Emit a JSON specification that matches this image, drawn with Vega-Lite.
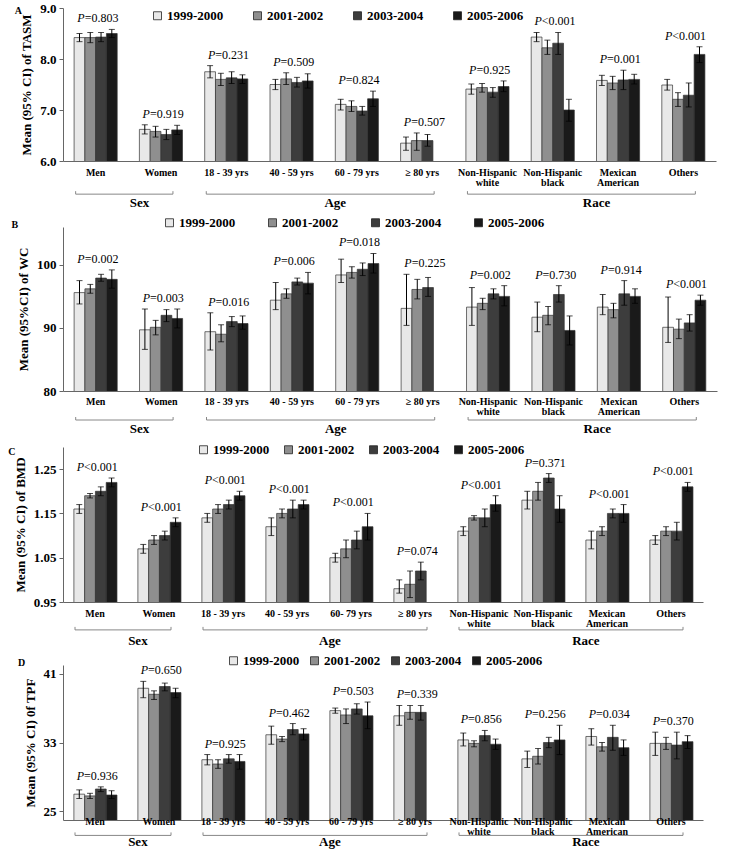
{
  "$schema": "https://vega.github.io/schema/vega-lite/v6.json",
  "padding": {"left": 8, "top": 2, "right": 4, "bottom": 0},
  "spacing": 6,
  "config": {
    "font": "Liberation Serif",
    "view": {"stroke": null},
    "axis": {"labelColor": "black", "titleColor": "black", "domainColor": "#666", "tickColor": "#666", "grid": false},
    "axisY": {"labelFontSize": 13, "labelFontWeight": "bold", "titleFontSize": 13, "titleFontWeight": "bold", "tickSize": 4, "labelPadding": 3, "titlePadding": 6, "labelOverlap": false},
    "axisX": {"labels": false, "ticks": false, "title": null},
    "legend": {"orient": "none", "direction": "horizontal", "symbolType": "square", "symbolSize": 64, "symbolStrokeColor": "#222", "symbolStrokeWidth": 0.8, "labelFontSize": 13, "labelFontWeight": "bold", "labelColor": "black", "labelOffset": 3},
    "title": {"fontSize": 10, "fontWeight": "bold", "anchor": "start", "frame": "bounds", "color": "black"}
  },
  "datasets": {
    "groups": [
      {"group": "Sex", "start": "Men", "mid": "Women", "end": "Women"},
      {"group": "Age", "start": "18 - 39 yrs", "mid": "60 - 79 yrs", "end": "≥ 80 yrs"},
      {"group": "Race", "start": "Non-Hispanic white", "mid": "Mexican American", "end": "Others"}
    ],
    "groupsC": [
      {"group": "Sex", "start": "Men", "mid": "Women", "end": "Women"},
      {"group": "Age", "start": "18 - 39 yrs", "mid": "60- 79 yrs", "end": "≥ 80 yrs"},
      {"group": "Race", "start": "Non-Hispanic white", "mid": "Mexican American", "end": "Others"}
    ],
    "xlabels": [
      {"cat": "Men", "label": "Men"},
      {"cat": "Women", "label": "Women"},
      {"cat": "18 - 39 yrs", "label": "18 - 39 yrs"},
      {"cat": "40 - 59 yrs", "label": "40 - 59 yrs"},
      {"cat": "60 - 79 yrs", "label": "60 - 79 yrs"},
      {"cat": "≥ 80 yrs", "label": "≥ 80 yrs"},
      {"cat": "Non-Hispanic white", "label": "Non-Hispanic\nwhite"},
      {"cat": "Non-Hispanic black", "label": "Non-Hispanic\nblack"},
      {"cat": "Mexican American", "label": "Mexican\nAmerican"},
      {"cat": "Others", "label": "Others"}
    ],
    "xlabelsC": [
      {"cat": "Men", "label": "Men"},
      {"cat": "Women", "label": "Women"},
      {"cat": "18 - 39 yrs", "label": "18 - 39 yrs"},
      {"cat": "40 - 59 yrs", "label": "40 - 59 yrs"},
      {"cat": "60- 79 yrs", "label": "60- 79 yrs"},
      {"cat": "≥ 80 yrs", "label": "≥ 80 yrs"},
      {"cat": "Non-Hispanic white", "label": "Non-Hispanic\nwhite"},
      {"cat": "Non-Hispanic black", "label": "Non-Hispanic\nblack"},
      {"cat": "Mexican American", "label": "Mexican\nAmerican"},
      {"cat": "Others", "label": "Others"}
    ],
    "tasm": [
      {"cat": "Men", "period": "1999-2000", "mean": 8.42, "lo": 8.34, "hi": 8.50, "p": "=0.803"},
      {"cat": "Men", "period": "2001-2002", "mean": 8.42, "lo": 8.32, "hi": 8.52, "p": "=0.803"},
      {"cat": "Men", "period": "2003-2004", "mean": 8.43, "lo": 8.34, "hi": 8.52, "p": "=0.803"},
      {"cat": "Men", "period": "2005-2006", "mean": 8.50, "lo": 8.42, "hi": 8.58, "p": "=0.803"},
      {"cat": "Women", "period": "1999-2000", "mean": 6.62, "lo": 6.53, "hi": 6.71, "p": "=0.919"},
      {"cat": "Women", "period": "2001-2002", "mean": 6.58, "lo": 6.47, "hi": 6.68, "p": "=0.919"},
      {"cat": "Women", "period": "2003-2004", "mean": 6.52, "lo": 6.42, "hi": 6.62, "p": "=0.919"},
      {"cat": "Women", "period": "2005-2006", "mean": 6.61, "lo": 6.52, "hi": 6.70, "p": "=0.919"},
      {"cat": "18 - 39 yrs", "period": "1999-2000", "mean": 7.75, "lo": 7.63, "hi": 7.87, "p": "=0.231"},
      {"cat": "18 - 39 yrs", "period": "2001-2002", "mean": 7.60, "lo": 7.48, "hi": 7.72, "p": "=0.231"},
      {"cat": "18 - 39 yrs", "period": "2003-2004", "mean": 7.63, "lo": 7.52, "hi": 7.75, "p": "=0.231"},
      {"cat": "18 - 39 yrs", "period": "2005-2006", "mean": 7.61, "lo": 7.52, "hi": 7.69, "p": "=0.231"},
      {"cat": "40 - 59 yrs", "period": "1999-2000", "mean": 7.50, "lo": 7.40, "hi": 7.60, "p": "=0.509"},
      {"cat": "40 - 59 yrs", "period": "2001-2002", "mean": 7.61, "lo": 7.50, "hi": 7.73, "p": "=0.509"},
      {"cat": "40 - 59 yrs", "period": "2003-2004", "mean": 7.54, "lo": 7.45, "hi": 7.64, "p": "=0.509"},
      {"cat": "40 - 59 yrs", "period": "2005-2006", "mean": 7.57, "lo": 7.43, "hi": 7.71, "p": "=0.509"},
      {"cat": "60 - 79 yrs", "period": "1999-2000", "mean": 7.11, "lo": 7.00, "hi": 7.21, "p": "=0.824"},
      {"cat": "60 - 79 yrs", "period": "2001-2002", "mean": 7.07, "lo": 6.97, "hi": 7.18, "p": "=0.824"},
      {"cat": "60 - 79 yrs", "period": "2003-2004", "mean": 6.98, "lo": 6.90, "hi": 7.07, "p": "=0.824"},
      {"cat": "60 - 79 yrs", "period": "2005-2006", "mean": 7.22, "lo": 7.07, "hi": 7.37, "p": "=0.824"},
      {"cat": "≥ 80 yrs", "period": "1999-2000", "mean": 6.35, "lo": 6.21, "hi": 6.47, "p": "=0.507"},
      {"cat": "≥ 80 yrs", "period": "2001-2002", "mean": 6.40, "lo": 6.21, "hi": 6.55, "p": "=0.507"},
      {"cat": "≥ 80 yrs", "period": "2003-2004", "mean": 6.40, "lo": 6.29, "hi": 6.52, "p": "=0.507"},
      {"cat": "Non-Hispanic white", "period": "1999-2000", "mean": 7.41, "lo": 7.31, "hi": 7.51, "p": "=0.925"},
      {"cat": "Non-Hispanic white", "period": "2001-2002", "mean": 7.44, "lo": 7.35, "hi": 7.52, "p": "=0.925"},
      {"cat": "Non-Hispanic white", "period": "2003-2004", "mean": 7.35, "lo": 7.25, "hi": 7.44, "p": "=0.925"},
      {"cat": "Non-Hispanic white", "period": "2005-2006", "mean": 7.46, "lo": 7.36, "hi": 7.57, "p": "=0.925"},
      {"cat": "Non-Hispanic black", "period": "1999-2000", "mean": 8.43, "lo": 8.34, "hi": 8.52, "p": "<0.001"},
      {"cat": "Non-Hispanic black", "period": "2001-2002", "mean": 8.22, "lo": 8.09, "hi": 8.37, "p": "<0.001"},
      {"cat": "Non-Hispanic black", "period": "2003-2004", "mean": 8.31, "lo": 8.09, "hi": 8.52, "p": "<0.001"},
      {"cat": "Non-Hispanic black", "period": "2005-2006", "mean": 7.00, "lo": 6.78, "hi": 7.21, "p": "<0.001"},
      {"cat": "Mexican American", "period": "1999-2000", "mean": 7.58, "lo": 7.48, "hi": 7.68, "p": "=0.001"},
      {"cat": "Mexican American", "period": "2001-2002", "mean": 7.53, "lo": 7.40, "hi": 7.66, "p": "=0.001"},
      {"cat": "Mexican American", "period": "2003-2004", "mean": 7.59, "lo": 7.40, "hi": 7.78, "p": "=0.001"},
      {"cat": "Mexican American", "period": "2005-2006", "mean": 7.60, "lo": 7.51, "hi": 7.70, "p": "=0.001"},
      {"cat": "Others", "period": "1999-2000", "mean": 7.49, "lo": 7.39, "hi": 7.60, "p": "<0.001"},
      {"cat": "Others", "period": "2001-2002", "mean": 7.21, "lo": 7.07, "hi": 7.34, "p": "<0.001"},
      {"cat": "Others", "period": "2003-2004", "mean": 7.29, "lo": 7.06, "hi": 7.53, "p": "<0.001"},
      {"cat": "Others", "period": "2005-2006", "mean": 8.09, "lo": 7.93, "hi": 8.24, "p": "<0.001"}
    ],
    "wc": [
      {"cat": "Men", "period": "1999-2000", "mean": 95.6, "lo": 93.8, "hi": 97.5, "p": "=0.002"},
      {"cat": "Men", "period": "2001-2002", "mean": 96.2, "lo": 95.5, "hi": 96.9, "p": "=0.002"},
      {"cat": "Men", "period": "2003-2004", "mean": 97.9, "lo": 97.4, "hi": 98.5, "p": "=0.002"},
      {"cat": "Men", "period": "2005-2006", "mean": 97.7, "lo": 96.3, "hi": 99.2, "p": "=0.002"},
      {"cat": "Women", "period": "1999-2000", "mean": 89.7, "lo": 86.6, "hi": 93.0, "p": "=0.003"},
      {"cat": "Women", "period": "2001-2002", "mean": 90.1, "lo": 88.9, "hi": 91.2, "p": "=0.003"},
      {"cat": "Women", "period": "2003-2004", "mean": 92.0, "lo": 91.0, "hi": 92.9, "p": "=0.003"},
      {"cat": "Women", "period": "2005-2006", "mean": 91.5, "lo": 90.0, "hi": 93.0, "p": "=0.003"},
      {"cat": "18 - 39 yrs", "period": "1999-2000", "mean": 89.4, "lo": 86.5, "hi": 92.4, "p": "=0.016"},
      {"cat": "18 - 39 yrs", "period": "2001-2002", "mean": 89.0, "lo": 87.8, "hi": 90.5, "p": "=0.016"},
      {"cat": "18 - 39 yrs", "period": "2003-2004", "mean": 91.0, "lo": 90.2, "hi": 91.8, "p": "=0.016"},
      {"cat": "18 - 39 yrs", "period": "2005-2006", "mean": 90.7, "lo": 89.8, "hi": 91.9, "p": "=0.016"},
      {"cat": "40 - 59 yrs", "period": "1999-2000", "mean": 94.4, "lo": 92.9, "hi": 97.2, "p": "=0.006"},
      {"cat": "40 - 59 yrs", "period": "2001-2002", "mean": 95.4, "lo": 94.7, "hi": 96.2, "p": "=0.006"},
      {"cat": "40 - 59 yrs", "period": "2003-2004", "mean": 97.3, "lo": 96.8, "hi": 97.9, "p": "=0.006"},
      {"cat": "40 - 59 yrs", "period": "2005-2006", "mean": 97.1, "lo": 95.4, "hi": 98.8, "p": "=0.006"},
      {"cat": "60 - 79 yrs", "period": "1999-2000", "mean": 98.4, "lo": 97.2, "hi": 100.9, "p": "=0.018"},
      {"cat": "60 - 79 yrs", "period": "2001-2002", "mean": 98.8, "lo": 97.9, "hi": 99.7, "p": "=0.018"},
      {"cat": "60 - 79 yrs", "period": "2003-2004", "mean": 99.3, "lo": 98.3, "hi": 100.3, "p": "=0.018"},
      {"cat": "60 - 79 yrs", "period": "2005-2006", "mean": 100.2, "lo": 98.7, "hi": 101.8, "p": "=0.018"},
      {"cat": "≥ 80 yrs", "period": "1999-2000", "mean": 93.1, "lo": 90.4, "hi": 98.5, "p": "=0.225"},
      {"cat": "≥ 80 yrs", "period": "2001-2002", "mean": 96.1, "lo": 94.6, "hi": 97.7, "p": "=0.225"},
      {"cat": "≥ 80 yrs", "period": "2003-2004", "mean": 96.4, "lo": 95.0, "hi": 98.0, "p": "=0.225"},
      {"cat": "Non-Hispanic white", "period": "1999-2000", "mean": 93.3, "lo": 90.4, "hi": 96.4, "p": "=0.002"},
      {"cat": "Non-Hispanic white", "period": "2001-2002", "mean": 93.9, "lo": 92.9, "hi": 94.7, "p": "=0.002"},
      {"cat": "Non-Hispanic white", "period": "2003-2004", "mean": 95.4, "lo": 94.6, "hi": 96.2, "p": "=0.002"},
      {"cat": "Non-Hispanic white", "period": "2005-2006", "mean": 95.0, "lo": 93.5, "hi": 96.7, "p": "=0.002"},
      {"cat": "Non-Hispanic black", "period": "1999-2000", "mean": 91.7, "lo": 89.4, "hi": 94.1, "p": "=0.730"},
      {"cat": "Non-Hispanic black", "period": "2001-2002", "mean": 92.0, "lo": 90.5, "hi": 93.4, "p": "=0.730"},
      {"cat": "Non-Hispanic black", "period": "2003-2004", "mean": 95.3, "lo": 94.1, "hi": 96.7, "p": "=0.730"},
      {"cat": "Non-Hispanic black", "period": "2005-2006", "mean": 89.6, "lo": 87.3, "hi": 91.9, "p": "=0.730"},
      {"cat": "Mexican American", "period": "1999-2000", "mean": 93.3, "lo": 92.1, "hi": 95.3, "p": "=0.914"},
      {"cat": "Mexican American", "period": "2001-2002", "mean": 92.9, "lo": 91.6, "hi": 93.9, "p": "=0.914"},
      {"cat": "Mexican American", "period": "2003-2004", "mean": 95.4, "lo": 93.6, "hi": 97.5, "p": "=0.914"},
      {"cat": "Mexican American", "period": "2005-2006", "mean": 95.0, "lo": 93.9, "hi": 96.2, "p": "=0.914"},
      {"cat": "Others", "period": "1999-2000", "mean": 90.1, "lo": 87.7, "hi": 94.9, "p": "<0.001"},
      {"cat": "Others", "period": "2001-2002", "mean": 89.8, "lo": 88.3, "hi": 91.4, "p": "<0.001"},
      {"cat": "Others", "period": "2003-2004", "mean": 90.8, "lo": 89.5, "hi": 92.1, "p": "<0.001"},
      {"cat": "Others", "period": "2005-2006", "mean": 94.4, "lo": 93.6, "hi": 95.2, "p": "<0.001"}
    ],
    "bmd": [
      {"cat": "Men", "period": "1999-2000", "mean": 1.16, "lo": 1.15, "hi": 1.17, "p": "<0.001"},
      {"cat": "Men", "period": "2001-2002", "mean": 1.19, "lo": 1.185, "hi": 1.195, "p": "<0.001"},
      {"cat": "Men", "period": "2003-2004", "mean": 1.20, "lo": 1.19, "hi": 1.21, "p": "<0.001"},
      {"cat": "Men", "period": "2005-2006", "mean": 1.22, "lo": 1.21, "hi": 1.23, "p": "<0.001"},
      {"cat": "Women", "period": "1999-2000", "mean": 1.07, "lo": 1.06, "hi": 1.08, "p": "<0.001"},
      {"cat": "Women", "period": "2001-2002", "mean": 1.09, "lo": 1.08, "hi": 1.10, "p": "<0.001"},
      {"cat": "Women", "period": "2003-2004", "mean": 1.10, "lo": 1.09, "hi": 1.11, "p": "<0.001"},
      {"cat": "Women", "period": "2005-2006", "mean": 1.13, "lo": 1.12, "hi": 1.14, "p": "<0.001"},
      {"cat": "18 - 39 yrs", "period": "1999-2000", "mean": 1.14, "lo": 1.13, "hi": 1.15, "p": "<0.001"},
      {"cat": "18 - 39 yrs", "period": "2001-2002", "mean": 1.16, "lo": 1.15, "hi": 1.17, "p": "<0.001"},
      {"cat": "18 - 39 yrs", "period": "2003-2004", "mean": 1.17, "lo": 1.16, "hi": 1.18, "p": "<0.001"},
      {"cat": "18 - 39 yrs", "period": "2005-2006", "mean": 1.19, "lo": 1.18, "hi": 1.20, "p": "<0.001"},
      {"cat": "40 - 59 yrs", "period": "1999-2000", "mean": 1.12, "lo": 1.10, "hi": 1.14, "p": "<0.001"},
      {"cat": "40 - 59 yrs", "period": "2001-2002", "mean": 1.15, "lo": 1.14, "hi": 1.16, "p": "<0.001"},
      {"cat": "40 - 59 yrs", "period": "2003-2004", "mean": 1.16, "lo": 1.14, "hi": 1.18, "p": "<0.001"},
      {"cat": "40 - 59 yrs", "period": "2005-2006", "mean": 1.17, "lo": 1.16, "hi": 1.18, "p": "<0.001"},
      {"cat": "60- 79 yrs", "period": "1999-2000", "mean": 1.05, "lo": 1.04, "hi": 1.06, "p": "<0.001"},
      {"cat": "60- 79 yrs", "period": "2001-2002", "mean": 1.07, "lo": 1.05, "hi": 1.09, "p": "<0.001"},
      {"cat": "60- 79 yrs", "period": "2003-2004", "mean": 1.09, "lo": 1.07, "hi": 1.11, "p": "<0.001"},
      {"cat": "60- 79 yrs", "period": "2005-2006", "mean": 1.12, "lo": 1.09, "hi": 1.15, "p": "<0.001"},
      {"cat": "≥ 80 yrs", "period": "1999-2000", "mean": 0.98, "lo": 0.97, "hi": 1.00, "p": "=0.074"},
      {"cat": "≥ 80 yrs", "period": "2001-2002", "mean": 0.99, "lo": 0.96, "hi": 1.02, "p": "=0.074"},
      {"cat": "≥ 80 yrs", "period": "2003-2004", "mean": 1.02, "lo": 1.00, "hi": 1.04, "p": "=0.074"},
      {"cat": "Non-Hispanic white", "period": "1999-2000", "mean": 1.11, "lo": 1.10, "hi": 1.12, "p": "<0.001"},
      {"cat": "Non-Hispanic white", "period": "2001-2002", "mean": 1.14, "lo": 1.135, "hi": 1.145, "p": "<0.001"},
      {"cat": "Non-Hispanic white", "period": "2003-2004", "mean": 1.14, "lo": 1.12, "hi": 1.16, "p": "<0.001"},
      {"cat": "Non-Hispanic white", "period": "2005-2006", "mean": 1.17, "lo": 1.155, "hi": 1.19, "p": "<0.001"},
      {"cat": "Non-Hispanic black", "period": "1999-2000", "mean": 1.18, "lo": 1.16, "hi": 1.20, "p": "=0.371"},
      {"cat": "Non-Hispanic black", "period": "2001-2002", "mean": 1.20, "lo": 1.18, "hi": 1.22, "p": "=0.371"},
      {"cat": "Non-Hispanic black", "period": "2003-2004", "mean": 1.23, "lo": 1.22, "hi": 1.24, "p": "=0.371"},
      {"cat": "Non-Hispanic black", "period": "2005-2006", "mean": 1.16, "lo": 1.13, "hi": 1.19, "p": "=0.371"},
      {"cat": "Mexican American", "period": "1999-2000", "mean": 1.09, "lo": 1.07, "hi": 1.11, "p": "<0.001"},
      {"cat": "Mexican American", "period": "2001-2002", "mean": 1.11, "lo": 1.10, "hi": 1.12, "p": "<0.001"},
      {"cat": "Mexican American", "period": "2003-2004", "mean": 1.15, "lo": 1.14, "hi": 1.16, "p": "<0.001"},
      {"cat": "Mexican American", "period": "2005-2006", "mean": 1.15, "lo": 1.13, "hi": 1.17, "p": "<0.001"},
      {"cat": "Others", "period": "1999-2000", "mean": 1.09, "lo": 1.08, "hi": 1.10, "p": "<0.001"},
      {"cat": "Others", "period": "2001-2002", "mean": 1.11, "lo": 1.10, "hi": 1.12, "p": "<0.001"},
      {"cat": "Others", "period": "2003-2004", "mean": 1.11, "lo": 1.09, "hi": 1.13, "p": "<0.001"},
      {"cat": "Others", "period": "2005-2006", "mean": 1.21, "lo": 1.20, "hi": 1.22, "p": "<0.001"}
    ],
    "tpf": [
      {"cat": "Men", "period": "1999-2000", "mean": 27.0, "lo": 26.5, "hi": 27.5, "p": "=0.936"},
      {"cat": "Men", "period": "2001-2002", "mean": 26.8, "lo": 26.5, "hi": 27.1, "p": "=0.936"},
      {"cat": "Men", "period": "2003-2004", "mean": 27.6, "lo": 27.3, "hi": 27.85, "p": "=0.936"},
      {"cat": "Men", "period": "2005-2006", "mean": 26.9, "lo": 26.5, "hi": 27.4, "p": "=0.936"},
      {"cat": "Women", "period": "1999-2000", "mean": 39.3, "lo": 38.2, "hi": 40.1, "p": "=0.650"},
      {"cat": "Women", "period": "2001-2002", "mean": 38.6, "lo": 38.0, "hi": 39.0, "p": "=0.650"},
      {"cat": "Women", "period": "2003-2004", "mean": 39.5, "lo": 39.0, "hi": 39.9, "p": "=0.650"},
      {"cat": "Women", "period": "2005-2006", "mean": 38.8, "lo": 38.2, "hi": 39.3, "p": "=0.650"},
      {"cat": "18 - 39 yrs", "period": "1999-2000", "mean": 31.0, "lo": 30.4, "hi": 31.6, "p": "=0.925"},
      {"cat": "18 - 39 yrs", "period": "2001-2002", "mean": 30.5, "lo": 30.0, "hi": 31.0, "p": "=0.925"},
      {"cat": "18 - 39 yrs", "period": "2003-2004", "mean": 31.1, "lo": 30.6, "hi": 31.6, "p": "=0.925"},
      {"cat": "18 - 39 yrs", "period": "2005-2006", "mean": 30.8, "lo": 29.9, "hi": 31.6, "p": "=0.925"},
      {"cat": "40 - 59 yrs", "period": "1999-2000", "mean": 33.9, "lo": 32.8, "hi": 34.9, "p": "=0.462"},
      {"cat": "40 - 59 yrs", "period": "2001-2002", "mean": 33.4, "lo": 33.1, "hi": 33.7, "p": "=0.462"},
      {"cat": "40 - 59 yrs", "period": "2003-2004", "mean": 34.5, "lo": 33.9, "hi": 35.2, "p": "=0.462"},
      {"cat": "40 - 59 yrs", "period": "2005-2006", "mean": 34.0, "lo": 33.3, "hi": 34.6, "p": "=0.462"},
      {"cat": "60 - 79 yrs", "period": "1999-2000", "mean": 36.7, "lo": 36.4, "hi": 37.0, "p": "=0.503"},
      {"cat": "60 - 79 yrs", "period": "2001-2002", "mean": 36.2, "lo": 35.2, "hi": 36.9, "p": "=0.503"},
      {"cat": "60 - 79 yrs", "period": "2003-2004", "mean": 36.9, "lo": 36.3, "hi": 37.5, "p": "=0.503"},
      {"cat": "60 - 79 yrs", "period": "2005-2006", "mean": 36.1, "lo": 34.6, "hi": 37.7, "p": "=0.503"},
      {"cat": "≥ 80 yrs", "period": "1999-2000", "mean": 36.1, "lo": 35.0, "hi": 37.3, "p": "=0.339"},
      {"cat": "≥ 80 yrs", "period": "2001-2002", "mean": 36.5, "lo": 35.7, "hi": 37.3, "p": "=0.339"},
      {"cat": "≥ 80 yrs", "period": "2003-2004", "mean": 36.5, "lo": 35.6, "hi": 37.3, "p": "=0.339"},
      {"cat": "Non-Hispanic white", "period": "1999-2000", "mean": 33.3, "lo": 32.6, "hi": 34.1, "p": "=0.856"},
      {"cat": "Non-Hispanic white", "period": "2001-2002", "mean": 32.9, "lo": 32.5, "hi": 33.2, "p": "=0.856"},
      {"cat": "Non-Hispanic white", "period": "2003-2004", "mean": 33.8, "lo": 33.2, "hi": 34.4, "p": "=0.856"},
      {"cat": "Non-Hispanic white", "period": "2005-2006", "mean": 32.8, "lo": 32.2, "hi": 33.4, "p": "=0.856"},
      {"cat": "Non-Hispanic black", "period": "1999-2000", "mean": 31.1, "lo": 30.1, "hi": 32.0, "p": "=0.256"},
      {"cat": "Non-Hispanic black", "period": "2001-2002", "mean": 31.4, "lo": 30.5, "hi": 32.3, "p": "=0.256"},
      {"cat": "Non-Hispanic black", "period": "2003-2004", "mean": 33.0, "lo": 32.4, "hi": 33.6, "p": "=0.256"},
      {"cat": "Non-Hispanic black", "period": "2005-2006", "mean": 33.3, "lo": 31.6, "hi": 35.0, "p": "=0.256"},
      {"cat": "Mexican American", "period": "1999-2000", "mean": 33.7, "lo": 32.7, "hi": 34.6, "p": "=0.034"},
      {"cat": "Mexican American", "period": "2001-2002", "mean": 32.5, "lo": 32.0, "hi": 33.0, "p": "=0.034"},
      {"cat": "Mexican American", "period": "2003-2004", "mean": 33.6, "lo": 32.1, "hi": 35.0, "p": "=0.034"},
      {"cat": "Mexican American", "period": "2005-2006", "mean": 32.4, "lo": 31.5, "hi": 33.3, "p": "=0.034"},
      {"cat": "Others", "period": "1999-2000", "mean": 32.9, "lo": 31.5, "hi": 34.2, "p": "=0.370"},
      {"cat": "Others", "period": "2001-2002", "mean": 32.9, "lo": 32.2, "hi": 33.6, "p": "=0.370"},
      {"cat": "Others", "period": "2003-2004", "mean": 32.7, "lo": 31.1, "hi": 34.2, "p": "=0.370"},
      {"cat": "Others", "period": "2005-2006", "mean": 33.1, "lo": 32.3, "hi": 33.8, "p": "=0.370"}
    ]
  },
  "resolve": {"scale": {"x": "independent", "y": "independent", "color": "independent"}, "legend": {"color": "independent"}},
  "vconcat": [
    {
      "title": {"text": "A", "offset": -14, "dx": -6},
      "width": 653, "height": 153,
      "layer": [
        {"data": {"name": "tasm"}, "mark": {"type": "bar", "stroke": "#333", "strokeWidth": 0.7, "clip": true},
         "encoding": {
           "x": {"field": "cat", "type": "nominal", "scale": {"domain": ["Men", "Women", "18 - 39 yrs", "40 - 59 yrs", "60 - 79 yrs", "≥ 80 yrs", "Non-Hispanic white", "Non-Hispanic black", "Mexican American", "Others"], "paddingInner": 0.34, "paddingOuter": 0.17}},
           "xOffset": {"field": "period", "type": "nominal", "scale": {"domain": ["1999-2000", "2001-2002", "2003-2004", "2005-2006"]}},
           "y": {"field": "mean", "type": "quantitative", "scale": {"domain": [6, 9], "zero": false}, "axis": {"values": [6, 6.5, 7, 7.5, 8, 8.5, 9], "format": ".1f", "title": "Mean (95% CI) of TASM", "labelOverlap": false}},
           "color": {"field": "period", "type": "nominal", "scale": {"domain": ["1999-2000", "2001-2002", "2003-2004", "2005-2006"], "range": ["#e8e8e8", "#8f8f8f", "#3d3d3d", "#1a1a1a"]}, "legend": {"title": null, "legendX": 88, "legendY": 1, "columnPadding": 27}}
         }},
        {"data": {"name": "tasm"}, "mark": {"type": "rule", "color": "black", "strokeWidth": 1},
         "encoding": {"x": {"field": "cat", "type": "nominal"}, "xOffset": {"field": "period", "type": "nominal"}, "y": {"field": "lo", "type": "quantitative"}, "y2": {"field": "hi"}}},
        {"data": {"name": "tasm"}, "transform": [{"fold": ["lo", "hi"], "as": ["bound", "val"]}],
         "mark": {"type": "tick", "color": "black", "size": 6, "thickness": 1},
         "encoding": {"x": {"field": "cat", "type": "nominal"}, "xOffset": {"field": "period", "type": "nominal"}, "y": {"field": "val", "type": "quantitative"}}},
        {"data": {"name": "tasm"}, "transform": [{"aggregate": [{"op": "max", "field": "hi", "as": "top"}], "groupby": ["cat", "p"]}],
         "mark": {"type": "text", "fontSize": 12, "fontStyle": "italic", "align": "right", "baseline": "bottom", "dx": -11, "dy": -4},
         "encoding": {"x": {"field": "cat", "type": "nominal"}, "y": {"field": "top", "type": "quantitative"}, "text": {"value": "P"}}},
        {"data": {"name": "tasm"}, "transform": [{"aggregate": [{"op": "max", "field": "hi", "as": "top"}], "groupby": ["cat", "p"]}],
         "mark": {"type": "text", "fontSize": 12, "align": "left", "baseline": "bottom", "dx": -11, "dy": -4},
         "encoding": {"x": {"field": "cat", "type": "nominal"}, "y": {"field": "top", "type": "quantitative"}, "text": {"field": "p"}}},
        {"data": {"name": "xlabels"}, "mark": {"type": "text", "fontSize": 10, "fontWeight": "bold", "baseline": "top", "lineBreak": "\n", "lineHeight": 10},
         "encoding": {"x": {"field": "cat", "type": "nominal"}, "y": {"datum": 5.86}, "text": {"field": "label"}}},
        {"data": {"name": "groups"}, "mark": {"type": "rule", "color": "#888", "xOffset": -20, "x2Offset": 12},
         "encoding": {"x": {"field": "start", "type": "nominal"}, "x2": {"field": "end"}, "y": {"datum": 5.35}}},
        {"data": {"name": "groups"}, "mark": {"type": "rule", "color": "#888", "xOffset": -20, "y2Offset": -3},
         "encoding": {"x": {"field": "start", "type": "nominal"}, "y": {"datum": 5.35}, "y2": {"datum": 5.35}}},
        {"data": {"name": "groups"}, "mark": {"type": "rule", "color": "#888", "xOffset": 12, "y2Offset": -3},
         "encoding": {"x": {"field": "end", "type": "nominal"}, "y": {"datum": 5.35}, "y2": {"datum": 5.35}}},
        {"data": {"name": "groups"}, "mark": {"type": "text", "fontSize": 13, "fontWeight": "bold", "baseline": "middle"},
         "encoding": {"x": {"field": "mid", "type": "nominal", "bandPosition": 0}, "y": {"datum": 5.18}, "text": {"field": "group"}}}
      ]
    },
    {
      "title": {"text": "B", "offset": -14, "dx": -6},
      "width": 654, "height": 164,
      "layer": [
        {"data": {"name": "wc"}, "mark": {"type": "bar", "stroke": "#333", "strokeWidth": 0.7, "clip": true},
         "encoding": {
           "x": {"field": "cat", "type": "nominal", "scale": {"domain": ["Men", "Women", "18 - 39 yrs", "40 - 59 yrs", "60 - 79 yrs", "≥ 80 yrs", "Non-Hispanic white", "Non-Hispanic black", "Mexican American", "Others"], "paddingInner": 0.34, "paddingOuter": 0.17}},
           "xOffset": {"field": "period", "type": "nominal", "scale": {"domain": ["1999-2000", "2001-2002", "2003-2004", "2005-2006"]}},
           "y": {"field": "mean", "type": "quantitative", "scale": {"domain": [80, 105], "zero": false}, "axis": {"values": [80, 85, 90, 95, 100, 105], "format": "d", "title": "Mean (95%CI) of WC", "labelOverlap": false}},
           "color": {"field": "period", "type": "nominal", "scale": {"domain": ["1999-2000", "2001-2002", "2003-2004", "2005-2006"], "range": ["#e8e8e8", "#8f8f8f", "#3d3d3d", "#1a1a1a"]}, "legend": {"title": null, "legendX": 100, "legendY": -11, "columnPadding": 30}}
         }},
        {"data": {"name": "wc"}, "mark": {"type": "rule", "color": "black", "strokeWidth": 1},
         "encoding": {"x": {"field": "cat", "type": "nominal"}, "xOffset": {"field": "period", "type": "nominal"}, "y": {"field": "lo", "type": "quantitative"}, "y2": {"field": "hi"}}},
        {"data": {"name": "wc"}, "transform": [{"fold": ["lo", "hi"], "as": ["bound", "val"]}],
         "mark": {"type": "tick", "color": "black", "size": 6, "thickness": 1},
         "encoding": {"x": {"field": "cat", "type": "nominal"}, "xOffset": {"field": "period", "type": "nominal"}, "y": {"field": "val", "type": "quantitative"}}},
        {"data": {"name": "wc"}, "transform": [{"aggregate": [{"op": "max", "field": "hi", "as": "top"}], "groupby": ["cat", "p"]}],
         "mark": {"type": "text", "fontSize": 12, "fontStyle": "italic", "align": "right", "baseline": "bottom", "dx": -11, "dy": -4},
         "encoding": {"x": {"field": "cat", "type": "nominal"}, "y": {"field": "top", "type": "quantitative"}, "text": {"value": "P"}}},
        {"data": {"name": "wc"}, "transform": [{"aggregate": [{"op": "max", "field": "hi", "as": "top"}], "groupby": ["cat", "p"]}],
         "mark": {"type": "text", "fontSize": 12, "align": "left", "baseline": "bottom", "dx": -11, "dy": -4},
         "encoding": {"x": {"field": "cat", "type": "nominal"}, "y": {"field": "top", "type": "quantitative"}, "text": {"field": "p"}}},
        {"data": {"name": "xlabels"}, "mark": {"type": "text", "fontSize": 10, "fontWeight": "bold", "baseline": "top", "lineBreak": "\n", "lineHeight": 10},
         "encoding": {"x": {"field": "cat", "type": "nominal"}, "y": {"datum": 79.0}, "text": {"field": "label"}}},
        {"data": {"name": "groups"}, "mark": {"type": "rule", "color": "#888", "xOffset": -20, "x2Offset": 12},
         "encoding": {"x": {"field": "start", "type": "nominal"}, "x2": {"field": "end"}, "y": {"datum": 75.4}}},
        {"data": {"name": "groups"}, "mark": {"type": "rule", "color": "#888", "xOffset": -20, "y2Offset": -3},
         "encoding": {"x": {"field": "start", "type": "nominal"}, "y": {"datum": 75.4}, "y2": {"datum": 75.4}}},
        {"data": {"name": "groups"}, "mark": {"type": "rule", "color": "#888", "xOffset": 12, "y2Offset": -3},
         "encoding": {"x": {"field": "end", "type": "nominal"}, "y": {"datum": 75.4}, "y2": {"datum": 75.4}}},
        {"data": {"name": "groups"}, "mark": {"type": "text", "fontSize": 13, "fontWeight": "bold", "baseline": "middle"},
         "encoding": {"x": {"field": "mid", "type": "nominal", "bandPosition": 0}, "y": {"datum": 73.9}, "text": {"field": "group"}}}
      ]
    },
    {
      "title": {"text": "C", "offset": -14, "dx": -6},
      "width": 640, "height": 155,
      "layer": [
        {"data": {"name": "bmd"}, "mark": {"type": "bar", "stroke": "#333", "strokeWidth": 0.7, "clip": true},
         "encoding": {
           "x": {"field": "cat", "type": "nominal", "scale": {"domain": ["Men", "Women", "18 - 39 yrs", "40 - 59 yrs", "60- 79 yrs", "≥ 80 yrs", "Non-Hispanic white", "Non-Hispanic black", "Mexican American", "Others"], "paddingInner": 0.34, "paddingOuter": 0.17}},
           "xOffset": {"field": "period", "type": "nominal", "scale": {"domain": ["1999-2000", "2001-2002", "2003-2004", "2005-2006"]}},
           "y": {"field": "mean", "type": "quantitative", "scale": {"domain": [0.95, 1.3], "zero": false}, "axis": {"values": [0.95, 1.0, 1.05, 1.1, 1.15, 1.2, 1.25, 1.3], "format": ".2f", "title": "Mean (95% CI) of BMD", "labelOverlap": false}},
           "color": {"field": "period", "type": "nominal", "scale": {"domain": ["1999-2000", "2001-2002", "2003-2004", "2005-2006"], "range": ["#e8e8e8", "#8f8f8f", "#3d3d3d", "#1a1a1a"]}, "legend": {"title": null, "legendX": 134, "legendY": -4, "columnPadding": 12}}
         }},
        {"data": {"name": "bmd"}, "mark": {"type": "rule", "color": "black", "strokeWidth": 1},
         "encoding": {"x": {"field": "cat", "type": "nominal"}, "xOffset": {"field": "period", "type": "nominal"}, "y": {"field": "lo", "type": "quantitative"}, "y2": {"field": "hi"}}},
        {"data": {"name": "bmd"}, "transform": [{"fold": ["lo", "hi"], "as": ["bound", "val"]}],
         "mark": {"type": "tick", "color": "black", "size": 6, "thickness": 1},
         "encoding": {"x": {"field": "cat", "type": "nominal"}, "xOffset": {"field": "period", "type": "nominal"}, "y": {"field": "val", "type": "quantitative"}}},
        {"data": {"name": "bmd"}, "transform": [{"aggregate": [{"op": "max", "field": "hi", "as": "top"}], "groupby": ["cat", "p"]}],
         "mark": {"type": "text", "fontSize": 12, "fontStyle": "italic", "align": "right", "baseline": "bottom", "dx": -11, "dy": -4},
         "encoding": {"x": {"field": "cat", "type": "nominal"}, "y": {"field": "top", "type": "quantitative"}, "text": {"value": "P"}}},
        {"data": {"name": "bmd"}, "transform": [{"aggregate": [{"op": "max", "field": "hi", "as": "top"}], "groupby": ["cat", "p"]}],
         "mark": {"type": "text", "fontSize": 12, "align": "left", "baseline": "bottom", "dx": -11, "dy": -4},
         "encoding": {"x": {"field": "cat", "type": "nominal"}, "y": {"field": "top", "type": "quantitative"}, "text": {"field": "p"}}},
        {"data": {"name": "xlabelsC"}, "mark": {"type": "text", "fontSize": 10, "fontWeight": "bold", "baseline": "top", "lineBreak": "\n", "lineHeight": 10},
         "encoding": {"x": {"field": "cat", "type": "nominal"}, "y": {"datum": 0.935}, "text": {"field": "label"}}},
        {"data": {"name": "groupsC"}, "mark": {"type": "rule", "color": "#888", "xOffset": -20, "x2Offset": 12},
         "encoding": {"x": {"field": "start", "type": "nominal"}, "x2": {"field": "end"}, "y": {"datum": 0.887}}},
        {"data": {"name": "groupsC"}, "mark": {"type": "rule", "color": "#888", "xOffset": -20, "y2Offset": -3},
         "encoding": {"x": {"field": "start", "type": "nominal"}, "y": {"datum": 0.887}, "y2": {"datum": 0.887}}},
        {"data": {"name": "groupsC"}, "mark": {"type": "rule", "color": "#888", "xOffset": 12, "y2Offset": -3},
         "encoding": {"x": {"field": "end", "type": "nominal"}, "y": {"datum": 0.887}, "y2": {"datum": 0.887}}},
        {"data": {"name": "groupsC"}, "mark": {"type": "text", "fontSize": 13, "fontWeight": "bold", "baseline": "middle"},
         "encoding": {"x": {"field": "mid", "type": "nominal", "bandPosition": 0}, "y": {"datum": 0.862}, "text": {"field": "group"}}}
      ]
    },
    {
      "title": {"text": "D", "offset": -14, "dx": -6},
      "width": 640, "height": 155,
      "layer": [
        {"data": {"name": "tpf"}, "mark": {"type": "bar", "stroke": "#333", "strokeWidth": 0.7, "clip": true},
         "encoding": {
           "x": {"field": "cat", "type": "nominal", "scale": {"domain": ["Men", "Women", "18 - 39 yrs", "40 - 59 yrs", "60 - 79 yrs", "≥ 80 yrs", "Non-Hispanic white", "Non-Hispanic black", "Mexican American", "Others"], "paddingInner": 0.34, "paddingOuter": 0.17}},
           "xOffset": {"field": "period", "type": "nominal", "scale": {"domain": ["1999-2000", "2001-2002", "2003-2004", "2005-2006"]}},
           "y": {"field": "mean", "type": "quantitative", "scale": {"domain": [25, 41], "zero": false}, "axis": {"values": [25, 27, 29, 31, 33, 35, 37, 39, 41], "format": "d", "title": "Mean (95% CI) 0f TPF", "labelOverlap": false}},
           "color": {"field": "period", "type": "nominal", "scale": {"domain": ["1999-2000", "2001-2002", "2003-2004", "2005-2006"], "range": ["#e8e8e8", "#8f8f8f", "#3d3d3d", "#1a1a1a"]}, "legend": {"title": null, "legendX": 164, "legendY": -11, "columnPadding": 8}}
         }},
        {"data": {"name": "tpf"}, "mark": {"type": "rule", "color": "black", "strokeWidth": 1},
         "encoding": {"x": {"field": "cat", "type": "nominal"}, "xOffset": {"field": "period", "type": "nominal"}, "y": {"field": "lo", "type": "quantitative"}, "y2": {"field": "hi"}}},
        {"data": {"name": "tpf"}, "transform": [{"fold": ["lo", "hi"], "as": ["bound", "val"]}],
         "mark": {"type": "tick", "color": "black", "size": 6, "thickness": 1},
         "encoding": {"x": {"field": "cat", "type": "nominal"}, "xOffset": {"field": "period", "type": "nominal"}, "y": {"field": "val", "type": "quantitative"}}},
        {"data": {"name": "tpf"}, "transform": [{"aggregate": [{"op": "max", "field": "hi", "as": "top"}], "groupby": ["cat", "p"]}],
         "mark": {"type": "text", "fontSize": 12, "fontStyle": "italic", "align": "right", "baseline": "bottom", "dx": -11, "dy": -4},
         "encoding": {"x": {"field": "cat", "type": "nominal"}, "y": {"field": "top", "type": "quantitative"}, "text": {"value": "P"}}},
        {"data": {"name": "tpf"}, "transform": [{"aggregate": [{"op": "max", "field": "hi", "as": "top"}], "groupby": ["cat", "p"]}],
         "mark": {"type": "text", "fontSize": 12, "align": "left", "baseline": "bottom", "dx": -11, "dy": -4},
         "encoding": {"x": {"field": "cat", "type": "nominal"}, "y": {"field": "top", "type": "quantitative"}, "text": {"field": "p"}}},
        {"data": {"name": "xlabels"}, "mark": {"type": "text", "fontSize": 10, "fontWeight": "bold", "baseline": "top", "lineBreak": "\n", "lineHeight": 10},
         "encoding": {"x": {"field": "cat", "type": "nominal"}, "y": {"datum": 24.4}, "text": {"field": "label"}}},
        {"data": {"name": "groups"}, "mark": {"type": "rule", "color": "#888", "xOffset": -20, "x2Offset": 12},
         "encoding": {"x": {"field": "start", "type": "nominal"}, "x2": {"field": "end"}, "y": {"datum": 22.21}}},
        {"data": {"name": "groups"}, "mark": {"type": "rule", "color": "#888", "xOffset": -20, "y2Offset": -3},
         "encoding": {"x": {"field": "start", "type": "nominal"}, "y": {"datum": 22.21}, "y2": {"datum": 22.21}}},
        {"data": {"name": "groups"}, "mark": {"type": "rule", "color": "#888", "xOffset": 12, "y2Offset": -3},
         "encoding": {"x": {"field": "end", "type": "nominal"}, "y": {"datum": 22.21}, "y2": {"datum": 22.21}}},
        {"data": {"name": "groups"}, "mark": {"type": "text", "fontSize": 13, "fontWeight": "bold", "baseline": "middle"},
         "encoding": {"x": {"field": "mid", "type": "nominal", "bandPosition": 0}, "y": {"datum": 21.39}, "text": {"field": "group"}}}
      ]
    }
  ]
}
